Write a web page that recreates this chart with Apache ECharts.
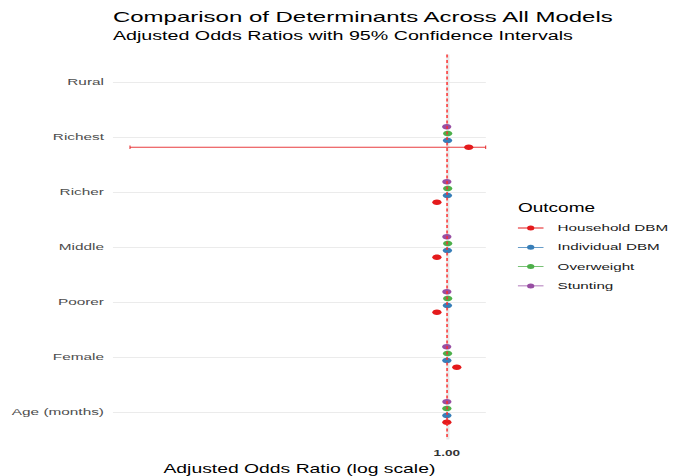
<!DOCTYPE html>
<html><head><meta charset="utf-8">
<script src="https://cdn.jsdelivr.net/npm/echarts@6/dist/echarts.min.js"></script>
<style>
html,body{margin:0;padding:0;background:#fff;overflow:hidden}
#chart{width:422px;height:476px;transform:scaleX(1.5995);transform-origin:0 0}
</style>
</head><body><div id="chart"></div>
<script>
// ---- data ----
const categories = ['Rural', 'Richest', 'Richer', 'Middle', 'Poorer', 'Female', 'Age (months)'];
const outcomes = ['Household DBM', 'Individual DBM', 'Overweight', 'Stunting'];
const outcomeColors = ['#E41A1C', '#377EB8', '#4DAF4A', '#984EA3'];

const householdOR = [null, 4.6, 0.5, 0.5, 0.5, 2.0, 1.0];
const householdLo = [null, 2.5e-10, 0.44, 0.44, 0.44, 1.8, 0.96];
const householdHi = [null, 15, 0.57, 0.57, 0.57, 2.25, 1.04];

const individualOR = [null, 1.05, 1.04, 1.04, 1.04, 1.0, 1.0];
const individualLo = [null, 0.98, 0.97, 0.97, 0.97, 0.95, 0.98];
const individualHi = [null, 1.12, 1.11, 1.11, 1.11, 1.05, 1.02];

const overweightOR = [null, 1.06, 1.06, 1.06, 1.06, 1.05, 1.0];
const overweightLo = [null, 0.99, 0.99, 0.99, 0.99, 0.99, 0.98];
const overweightHi = [null, 1.13, 1.13, 1.13, 1.13, 1.11, 1.02];

const stuntingOR = [null, 0.99, 1.0, 1.0, 1.0, 0.99, 1.0];
const stuntingLo = [null, 0.94, 0.95, 0.95, 0.95, 0.94, 0.98];
const stuntingHi = [null, 1.05, 1.06, 1.06, 1.06, 1.04, 1.02];

const xMin = 7.6e-11;
const xMax = 15.2;
const xTickValues = [1];
const xTickLabels = ['1.00'];
const refValue = 1;

// ---- chart ----
const FONT = '"Liberation Sans", Arial, sans-serif';
const chart = echarts.init(document.getElementById('chart'), null, {renderer: 'svg', width: 422, height: 476});

const seriesSets = [
  {or: householdOR, lo: householdLo, hi: householdHi},
  {or: individualOR, lo: individualLo, hi: individualHi},
  {or: overweightOR, lo: overweightLo, hi: overweightHi},
  {or: stuntingOR, lo: stuntingLo, hi: stuntingHi}
];

function buildData(s) {
  const out = [];
  categories.forEach((c, i) => {
    if (s.or[i] == null) return;
    out.push([s.or[i], i, s.lo[i], s.hi[i]]);
  });
  return out;
}

function makeRender(sIdx, color) {
  return function (params, api) {
    const yi = api.value(1);
    const band = api.size([0, 1])[1];
    const off = (1.5 - sIdx) * 0.125 * band;
    const p = api.coord([api.value(0), yi]);
    const pl = api.coord([api.value(2), yi]);
    const ph = api.coord([api.value(3), yi]);
    const y = p[1] + off;
    const lineStyle = {stroke: color, lineWidth: 1, opacity: 0.85};
    return {
      type: 'group',
      children: [
        {type: 'line', shape: {x1: pl[0], y1: y, x2: ph[0], y2: y}, style: lineStyle},
        {type: 'line', shape: {x1: pl[0], y1: y - 1.8, x2: pl[0], y2: y + 1.8}, style: {stroke: color, lineWidth: 0.7, opacity: 0.85}},
        {type: 'line', shape: {x1: ph[0], y1: y - 1.8, x2: ph[0], y2: y + 1.8}, style: {stroke: color, lineWidth: 0.7, opacity: 0.85}},
        {type: 'ellipse', shape: {cx: p[0], cy: y, rx: 2.9, ry: 2.7}, style: {fill: color}}
      ]
    };
  };
}

const legendIcon = 'path://M0,2.1 L16,2.1 L16,2.9 L0,2.9 Z M8,0 A2.3,2.5 0 1 1 8,5 A2.3,2.5 0 1 1 8,0 Z';

const series = outcomes.map((name, k) => ({
  name: name,
  type: 'custom',
  z: 3,
  itemStyle: {color: outcomeColors[k]},
  encode: {x: [0, 2, 3], y: 1},
  renderItem: makeRender(k, outcomeColors[k]),
  data: buildData(seriesSets[k])
}));

// horizontal gridlines at category centres
series.push({
  type: 'line', data: [], silent: true,
  markLine: {
    silent: true, symbol: 'none', z: 1,
    label: {show: false},
    lineStyle: {color: '#ebebeb', width: 1, type: 'solid'},
    data: categories.map(c => ({yAxis: c}))
  }
});
// vertical gridline at the x break(s), with its tick label
series.push({
  type: 'line', data: [], silent: true,
  markLine: {
    silent: true, symbol: 'none', z: 1,
    lineStyle: {color: '#e8e8e8', width: 2, type: 'solid'},
    label: {
      show: true, position: 'end', distance: 9,
      color: '#333333', fontSize: 8.5, fontWeight: 'bold', fontFamily: FONT,
      formatter: p => xTickLabels[xTickValues.indexOf(p.value)]
    },
    data: xTickValues.map(v => ({xAxis: v}))
  }
});
// red dashed reference line
series.push({
  type: 'line', data: [], silent: true,
  markLine: {
    silent: true, symbol: 'none', z: 10,
    label: {show: false},
    lineStyle: {color: '#ff2a2a', width: 1, type: [3, 2.5], opacity: 0.9},
    data: [{xAxis: refValue}]
  }
});

chart.setOption({
  animation: false,
  backgroundColor: '#ffffff',
  textStyle: {fontFamily: FONT},
  title: [
    {text: 'Comparison of Determinants Across All Models', left: 70.6, top: 9, padding: 0,
     textStyle: {fontSize: 15, fontWeight: 'normal', color: '#000', fontFamily: FONT}},
    {text: 'Adjusted Odds Ratios with 95% Confidence Intervals', left: 70.6, top: 29, padding: 0,
     textStyle: {fontSize: 12.3, fontWeight: 'normal', color: '#000', fontFamily: FONT}},
    {text: 'Outcome', left: 323.8, top: 201.5, padding: 0,
     textStyle: {fontSize: 11.9, fontWeight: 'normal', color: '#000', fontFamily: FONT}}
  ],
  legend: {
    orient: 'vertical',
    left: 323.8,
    top: 222,
    padding: 0,
    itemWidth: 16,
    itemHeight: 5,
    itemGap: 7.3,
    textStyle: {fontSize: 9.5, color: '#1a1a1a', fontFamily: FONT, lineHeight: 12, padding: [0, 0, 0, 3.8]},
    data: outcomes.map(n => ({name: n, icon: legendIcon}))
  },
  grid: {left: 70.6, right: 118.25, top: 54.5, height: 385, containLabel: false, outerBoundsMode: 'none'},
  xAxis: {
    type: 'log',
    logBase: 10,
    min: xMin,
    max: xMax,
    name: 'Adjusted Odds Ratio (log scale)',
    nameLocation: 'middle',
    nameGap: 22.5,
    nameTextStyle: {fontSize: 12.1, color: '#000', fontFamily: FONT},
    axisLine: {show: false},
    axisTick: {show: false},
    axisLabel: {show: false},
    splitLine: {show: false}
  },
  yAxis: {
    type: 'category',
    data: categories,
    inverse: true,
    axisLine: {show: false},
    axisTick: {show: false},
    splitLine: {show: false},
    axisLabel: {margin: 5.6, fontSize: 9.6, color: '#4d4d4d', fontFamily: FONT}
  },
  series: series
});
</script>
</body></html>
